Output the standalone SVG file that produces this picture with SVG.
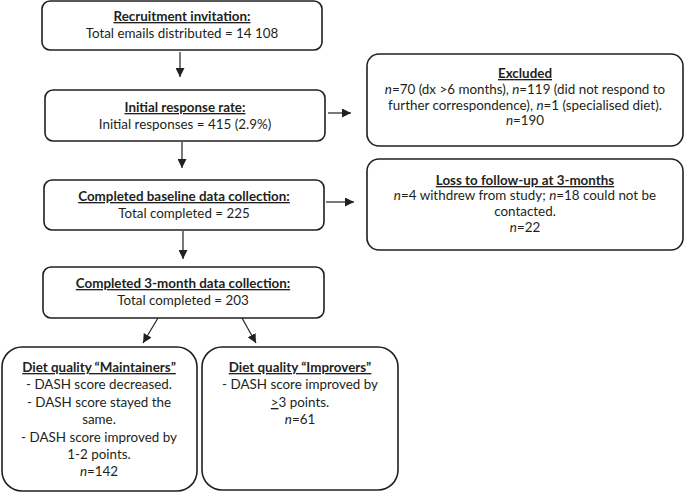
<svg xmlns="http://www.w3.org/2000/svg" width="685" height="492" viewBox="0 0 685 492">
<style>
text{font-family:Lato,"Liberation Sans",sans-serif;font-size:13.4px;fill:#231f20;text-anchor:middle}
.t{font-weight:bold;text-decoration:underline}
.i{font-style:italic}
.u{text-decoration:underline}
rect{fill:#fff;stroke:#231f20;stroke-width:1.6}
.c line{stroke:#231f20;stroke-width:1.2}
</style>
<defs>
<marker id="a" viewBox="0 0 10 10" refX="10" refY="5" markerWidth="9" markerHeight="9" markerUnits="userSpaceOnUse" orient="auto"><path d="M0,0L10,5L0,10z" fill="#231f20"/></marker>
</defs>
<rect width="685" height="492" style="fill:#fff;stroke:none"/>
<g class="c">
<line x1="180" y1="52" x2="180" y2="77" marker-end="url(#a)"/>
<line x1="182" y1="142" x2="182" y2="168" marker-end="url(#a)"/>
<line x1="183" y1="231" x2="183" y2="259" marker-end="url(#a)"/>
<line x1="328" y1="113" x2="351" y2="113" marker-end="url(#a)"/>
<line x1="326" y1="202" x2="354" y2="202" marker-end="url(#a)"/>
<line x1="158" y1="318" x2="143" y2="343" marker-end="url(#a)"/>
<line x1="242" y1="318" x2="256" y2="343" marker-end="url(#a)"/>
</g>
<g id="recruit">
<rect x="42" y="1" width="280" height="49" rx="8"/>
<text x="182" y="21" class="t">Recruitment invitation:</text>
<text x="182" y="38">Total emails distributed = 14 108</text>
</g>
<g id="initial">
<rect x="45" y="90" width="280" height="51" rx="8"/>
<text x="185" y="112" class="t">Initial response rate:</text>
<text x="185" y="129">Initial responses = 415 (2.9%)</text>
</g>
<g id="baseline">
<rect x="44" y="180" width="280" height="50" rx="8"/>
<text x="184" y="201" class="t">Completed baseline data collection:</text>
<text x="184" y="218">Total completed = 225</text>
</g>
<g id="threemonth">
<rect x="43" y="267" width="281" height="51" rx="8"/>
<text x="183" y="288" class="t">Completed 3-month data collection:</text>
<text x="183" y="305">Total completed = 203</text>
</g>
<g id="excluded">
<rect x="367" y="54" width="316" height="92" rx="12"/>
<text x="525" y="78" class="t">Excluded</text>
<text x="525" y="94"><tspan class="i">n</tspan>=70 (dx &gt;6 months), <tspan class="i">n</tspan>=119 (did not respond to</text>
<text x="525" y="110">further correspondence), <tspan class="i">n</tspan>=1 (specialised diet).</text>
<text x="525" y="125"><tspan class="i">n</tspan>=190</text>
</g>
<g id="loss">
<rect x="367" y="159" width="316" height="91" rx="12"/>
<text x="525" y="185" class="t">Loss to follow-up at 3-months</text>
<text x="525" y="200"><tspan class="i">n</tspan>=4 withdrew from study; <tspan class="i">n</tspan>=18 could not be</text>
<text x="525" y="216">contacted.</text>
<text x="525" y="232"><tspan class="i">n</tspan>=22</text>
</g>
<g id="maintainers">
<rect x="2" y="347" width="195" height="144" rx="20"/>
<text x="99" y="372" class="t">Diet quality “Maintainers”</text>
<text x="99" y="389">- DASH score decreased.</text>
<text x="99" y="407">- DASH score stayed the</text>
<text x="99" y="424">same.</text>
<text x="99" y="442">- DASH score improved by</text>
<text x="99" y="459">1-2 points.</text>
<text x="99" y="476"><tspan class="i">n</tspan>=142</text>
</g>
<g id="improvers">
<rect x="202" y="347" width="196" height="143" rx="20"/>
<text x="300" y="372" class="t">Diet quality “Improvers”</text>
<text x="300" y="389">- DASH score improved by</text>
<text x="300" y="407"><tspan class="u">&gt;</tspan>3 points.</text>
<text x="300" y="424"><tspan class="i">n</tspan>=61</text>
</g>
</svg>
